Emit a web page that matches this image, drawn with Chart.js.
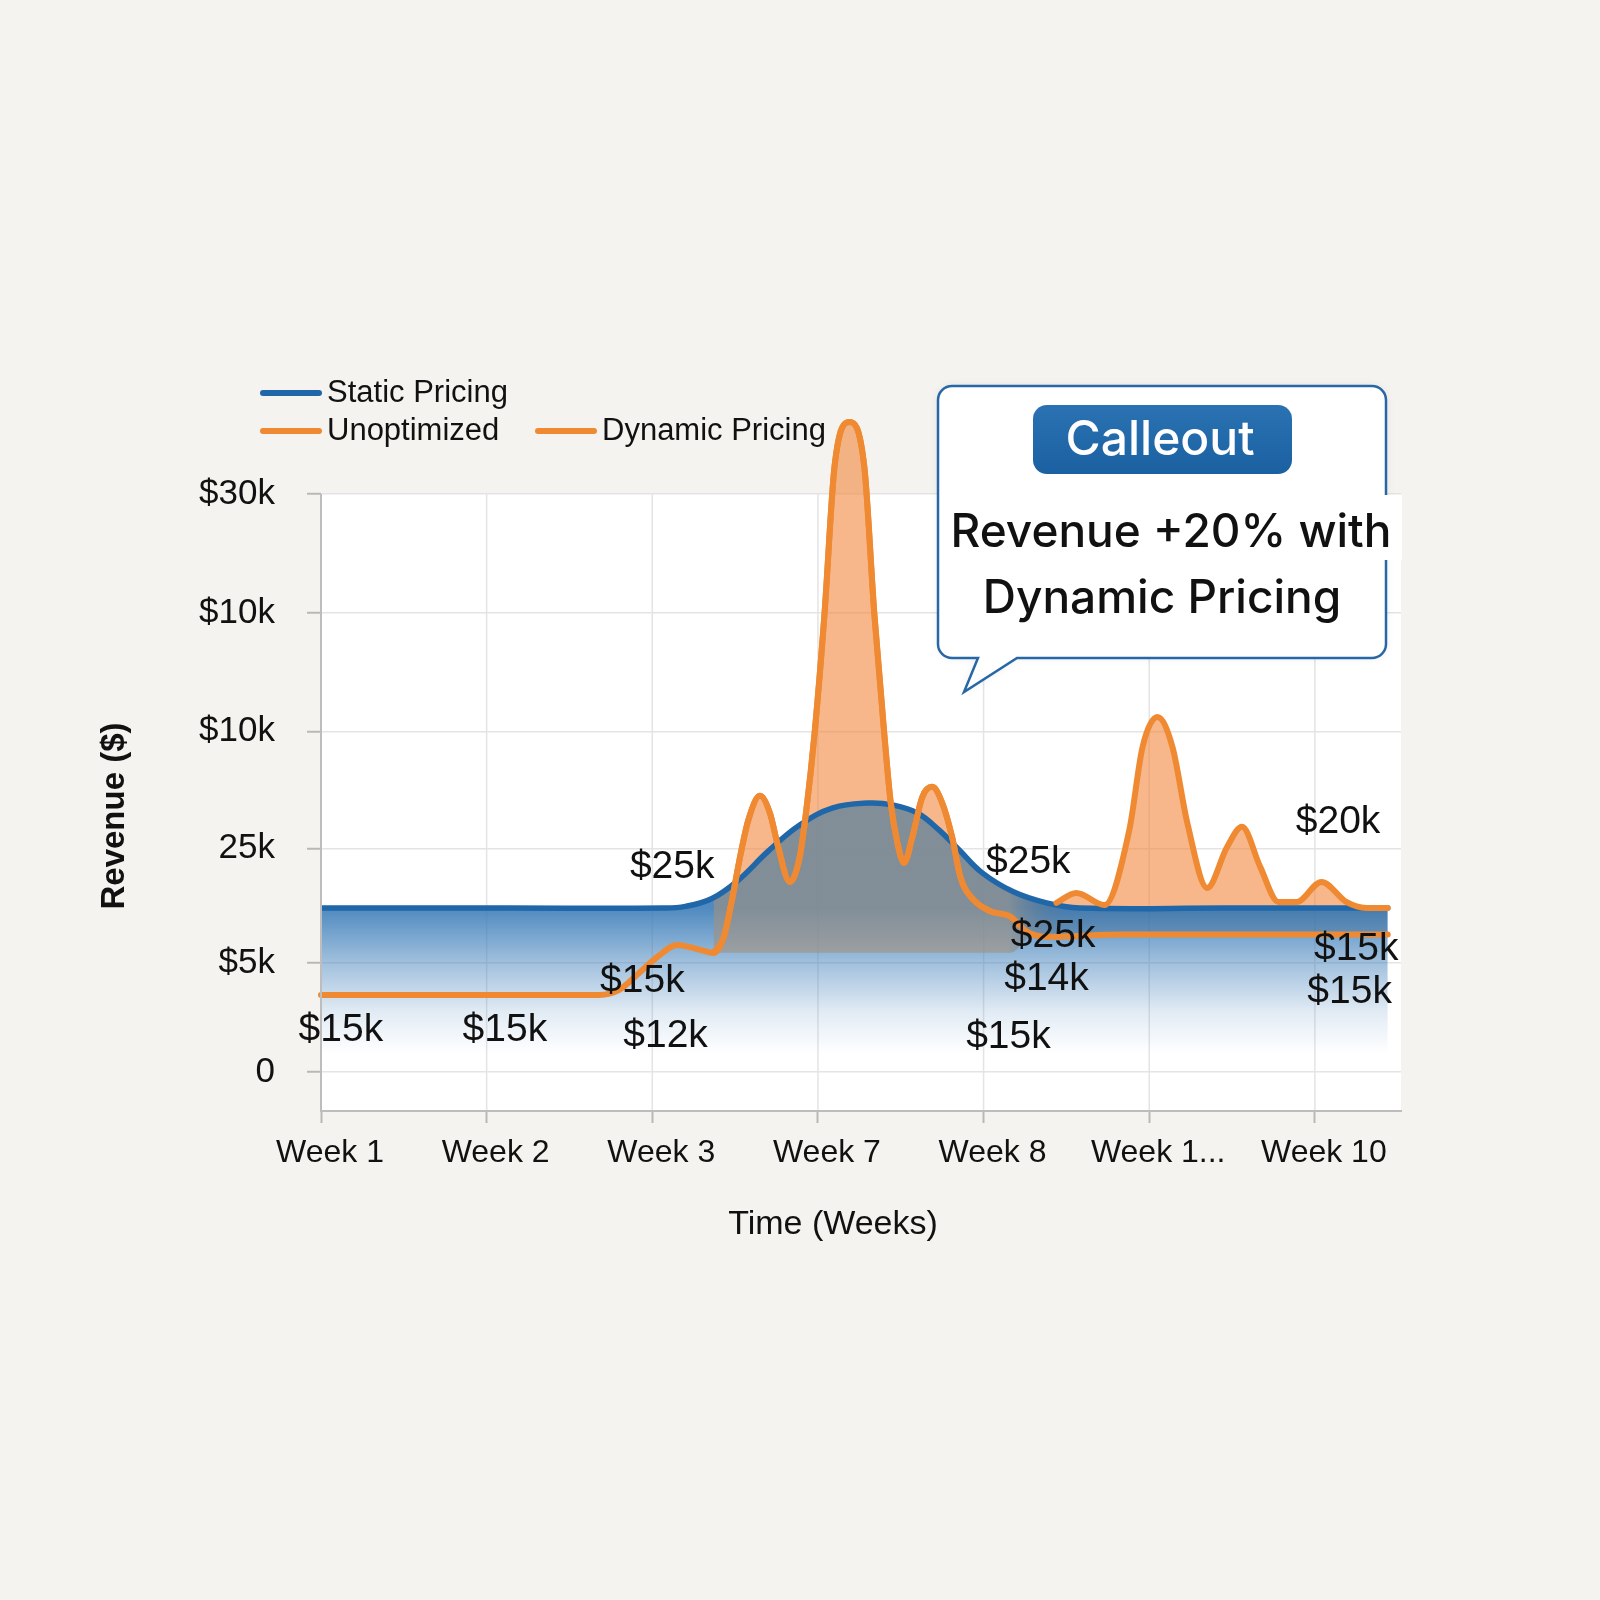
<!DOCTYPE html>
<html>
<head>
<meta charset="utf-8">
<title>Revenue: Static vs Dynamic Pricing</title>
<script src="https://cdn.jsdelivr.net/npm/chart.js@4.4.1/dist/chart.umd.min.js"></script>
<style>
  html, body { margin: 0; padding: 0; background: #f4f3ef; }
  canvas { display: block; }
</style>
</head>
<body>
<canvas id="revenueChart" width="1600" height="1600"></canvas>
<script>
"use strict";

// Axis labels (x = week slot, y = revenue in $k)
const WEEK_LABELS = ["Week 1", "Week 2", "Week 3", "Week 7", "Week 8", "Week 1...", "Week 10"];
const REVENUE_TICKS = [0, 4.71, 9.65, 14.71, 19.85, 25];
const REVENUE_TICK_LABELS = ["0", "$5k", "25k", "$10k", "$10k", "$30k"];

// Static pricing
const STATIC_X = [0, 1.14, 2.06, 2.20, 2.36, 2.52, 2.70, 2.89, 3.09, 3.30, 3.45, 3.60, 3.73, 3.85, 3.99, 4.18, 4.38, 4.58, 5.45, 6.44];
const STATIC_Y = [7.09, 7.09, 7.09, 7.16, 7.50, 8.30, 9.55, 10.68, 11.42, 11.63, 11.55, 11.20, 10.47, 9.62, 8.62, 7.79, 7.31, 7.09, 7.09, 7.09];

// Unoptimized
const UNOPT_X = [0, 1.68, 1.80, 1.92, 2.03, 2.15, 2.29, 2.37, 2.43, 2.48, 2.53, 2.58, 2.65, 2.71, 2.76, 2.83, 2.89, 2.93, 2.98, 3.04, 3.10, 3.19, 3.28, 3.34, 3.40, 3.44, 3.48, 3.52, 3.57, 3.63, 3.69, 3.75, 3.81, 3.86, 3.94, 4.04, 4.16, 4.26, 4.38, 4.84, 6.44];
const UNOPT_Y = [3.33, 3.33, 3.55, 4.28, 4.97, 5.49, 5.28, 5.15, 5.80, 7.40, 9.30, 10.90, 11.94, 11.20, 9.73, 8.22, 9.30, 11.33, 14.66, 19.85, 26.17, 28.11, 26.17, 19.85, 14.66, 11.60, 9.90, 9.04, 10.16, 11.89, 12.33, 11.64, 10.16, 8.43, 7.44, 6.95, 6.73, 6.07, 5.85, 5.94, 5.94];

// Dynamic pricing, late weeks (the mid-chart spike is shared with the orange line above)
const DYNAMIC_X = [4.44, 4.56, 4.73, 4.88, 4.96, 5.05, 5.14, 5.23, 5.35, 5.47, 5.56, 5.67, 5.78, 5.89, 6.04, 6.19, 6.31, 6.44];
const DYNAMIC_Y = [7.31, 7.74, 7.22, 10.47, 14.06, 15.35, 14.06, 10.77, 7.96, 9.73, 10.60, 8.87, 7.35, 7.35, 8.22, 7.35, 7.09, 7.09];

// Grey overlap band under the static line
const BAND_X = [2.37, 4.16, 4.30, 6.44];
const BAND_Y = [5.15, 5.15, 5.90, 5.94];

// Value labels scattered on the plot
const VALUE_LABEL_X = [0.12, 1.11, 2.08, 1.94, 2.12, 4.27, 4.42, 4.38, 4.15, 6.14, 6.25, 6.21];
const VALUE_LABEL_Y = [1.79, 1.79, 1.53, 3.91, 8.87, 9.07, 5.85, 4.0, 1.48, 10.8, 5.32, 3.43];
const VALUE_LABEL_TEXT = ["$15k", "$15k", "$12k", "$15k", "$25k", "$25k", "$25k", "$14k", "$15k", "$20k", "$15k", "$15k"];

const BLUE = "#1f67a8";
const ORANGE = "#ef8a32";
const ORANGE_FILL = "rgba(241,135,60,0.6)";

Chart.defaults.font.family = "'Liberation Sans', Arial, sans-serif";
Chart.defaults.color = "#111111";

function toPoints(xs, ys) {
    return xs.map(function(x, i) { return { x: x, y: ys[i] }; });
}

// dynamic = spike section of the orange line + gap + late weeks
let dynamicPoints = toPoints(UNOPT_X, UNOPT_Y).filter(function(p) { return p.x >= 2.37 && p.x <= 4.04; });
dynamicPoints.push({ x: 4.24, y: null });
dynamicPoints = dynamicPoints.concat(toPoints(DYNAMIC_X, DYNAMIC_Y));

function staticFill(context) {
    const chart = context.chart;
    if (!chart.chartArea) return "rgba(60,125,185,0.5)";
    const y = chart.scales.y;
    const g = chart.ctx.createLinearGradient(0, y.getPixelForValue(7.1), 0, y.getPixelForValue(0.8));
    g.addColorStop(0, "rgba(60,125,185,0.9)");
    g.addColorStop(0.37, "rgba(60,125,185,0.49)");
    g.addColorStop(0.72, "rgba(60,125,185,0.15)");
    g.addColorStop(1, "rgba(60,125,185,0)");
    return g;
}

function bandFill(context) {
    const chart = context.chart;
    if (!chart.chartArea) return "rgba(150,140,130,0.6)";
    const x = chart.scales.x;
    const x0 = x.getPixelForValue(2.3);
    const x1 = x.getPixelForValue(6.44);
    const span = x1 - x0;
    const g = chart.ctx.createLinearGradient(x0, 0, x1, 0);
    g.addColorStop(0, "rgba(160,145,128,0.62)");
    g.addColorStop((x.getPixelForValue(4.15) - x0) / span, "rgba(160,145,128,0.62)");
    g.addColorStop((x.getPixelForValue(4.5) - x0) / span, "rgba(40,80,120,0.25)");
    g.addColorStop(1, "rgba(40,80,120,0.25)");
    return g;
}

function roundedBox(ctx, l, t, r, b, rad) {
    ctx.moveTo(l + rad, t);
    ctx.lineTo(r - rad, t);
    ctx.arcTo(r, t, r, t + rad, rad);
    ctx.lineTo(r, b - rad);
    ctx.arcTo(r, b, r - rad, b, rad);
    ctx.lineTo(l + rad, b);
    ctx.arcTo(l, b, l, b - rad, rad);
    ctx.lineTo(l, t + rad);
    ctx.arcTo(l, t, l + rad, t, rad);
}

const LEGEND_SLOTS = [
    { label: "Static Pricing", x: 263, y: 393 },
    { label: "Unoptimized", x: 263, y: 431 },
    { label: "Dynamic Pricing", x: 538, y: 431 }
];

const revenueDecor = {
    id: "revenueDecor",
    beforeDraw(chart) {
        const ctx = chart.ctx;
        const area = chart.chartArea;
        const top = chart.scales.y.getPixelForValue(REVENUE_TICKS[REVENUE_TICKS.length - 1]);
        ctx.save();
        ctx.fillStyle = "#ffffff";
        ctx.fillRect(area.left, top, area.right - area.left, area.bottom - top);
        ctx.strokeStyle = "#e4e4e4";
        ctx.lineWidth = 1.5;
        WEEK_LABELS.forEach(function(_, i) {
            const px = chart.scales.x.getPixelForValue(i);
            ctx.beginPath();
            ctx.moveTo(px, top);
            ctx.lineTo(px, area.bottom);
            ctx.stroke();
        });
        ctx.restore();
    },
    afterDatasetsDraw(chart) {
        const ctx = chart.ctx;
        const area = chart.chartArea;
        const xs = chart.scales.x;
        const ys = chart.scales.y;
        const top = ys.getPixelForValue(REVENUE_TICKS[REVENUE_TICKS.length - 1]);
        ctx.save();
        // left axis line
        ctx.strokeStyle = "#bdbdbd";
        ctx.lineWidth = 2;
        ctx.beginPath();
        ctx.moveTo(area.left, top);
        ctx.lineTo(area.left, area.bottom);
        ctx.stroke();
        // value labels
        ctx.fillStyle = "#111111";
        ctx.font = "39px 'Liberation Sans', Arial, sans-serif";
        ctx.textAlign = "center";
        ctx.textBaseline = "middle";
        VALUE_LABEL_TEXT.forEach(function(t, i) {
            ctx.fillText(t, xs.getPixelForValue(VALUE_LABEL_X[i]), ys.getPixelForValue(VALUE_LABEL_Y[i]));
        });
        ctx.restore();
    },
    afterDraw(chart) {
        const ctx = chart.ctx;
        ctx.save();

        // legend
        ctx.font = "31px 'Liberation Sans', Arial, sans-serif";
        ctx.textAlign = "left";
        ctx.textBaseline = "middle";
        ctx.lineCap = "round";
        LEGEND_SLOTS.forEach(function(slot) {
            const ds = chart.data.datasets.find(function(d) { return d.label === slot.label; });
            ctx.strokeStyle = ds.borderColor;
            ctx.lineWidth = 6;
            ctx.beginPath();
            ctx.moveTo(slot.x, slot.y);
            ctx.lineTo(slot.x + 56, slot.y);
            ctx.stroke();
            ctx.fillStyle = "#111111";
            ctx.fillText(slot.label, slot.x + 64, slot.y);
        });

        // axis titles
        ctx.textAlign = "center";
        ctx.font = "34px 'Liberation Sans', Arial, sans-serif";
        ctx.fillText("Time (Weeks)", 833, 1225);
        ctx.save();
        ctx.translate(115, 816);
        ctx.rotate(-Math.PI / 2);
        ctx.font = "bold 33px 'Liberation Sans', Arial, sans-serif";
        ctx.fillText("Revenue ($)", 0, 0);
        ctx.restore();

        // callout box with tail
        ctx.beginPath();
        ctx.moveTo(952, 386);
        ctx.lineTo(1372, 386);
        ctx.arcTo(1386, 386, 1386, 400, 14);
        ctx.lineTo(1386, 644);
        ctx.arcTo(1386, 658, 1372, 658, 14);
        ctx.lineTo(1017, 658);
        ctx.lineTo(964, 692);
        ctx.lineTo(978, 658);
        ctx.lineTo(952, 658);
        ctx.arcTo(938, 658, 938, 644, 14);
        ctx.lineTo(938, 400);
        ctx.arcTo(938, 386, 952, 386, 14);
        ctx.closePath();
        ctx.shadowColor = "rgba(0,0,0,0.08)";
        ctx.shadowBlur = 10;
        ctx.fillStyle = "#ffffff";
        ctx.fill();
        ctx.shadowColor = "transparent";
        ctx.strokeStyle = "#2767a6";
        ctx.lineWidth = 2.5;
        ctx.stroke();

        // plot background overlapping the right border
        ctx.fillStyle = "#ffffff";
        ctx.fillRect(1380, 495, 22, 65);

        // title pill
        const pill = ctx.createLinearGradient(0, 405, 0, 474);
        pill.addColorStop(0, "#2a72b2");
        pill.addColorStop(1, "#1b61a1");
        ctx.beginPath();
        roundedBox(ctx, 1033, 405, 1292, 474, 14);
        ctx.closePath();
        ctx.fillStyle = pill;
        ctx.fill();
        ctx.fillStyle = "#ffffff";
        ctx.font = "500 48px Inter, 'Liberation Sans', sans-serif";
        ctx.fillText("Calleout", 1160, 441);

        ctx.fillStyle = "#111111";
        ctx.font = "500 46px Inter, 'Liberation Sans', sans-serif";
        ctx.fillText("Revenue +20% with", 1171, 533);
        ctx.fillText("Dynamic Pricing", 1162, 599);

        ctx.restore();
    }
};

const ctx_revenue = document.getElementById("revenueChart").getContext("2d");

let revenueChart = new Chart(ctx_revenue, {
    type: "line",
    data: {
        datasets: [
            {
                label: "Static Pricing",
                data: toPoints(STATIC_X, STATIC_Y),
                borderColor: BLUE,
                borderWidth: 5.5,
                backgroundColor: staticFill,
                fill: "origin",
                cubicInterpolationMode: "default",
                tension: 0.4,
                order: 4
            },
            {
                label: "",
                data: toPoints(BAND_X, BAND_Y),
                borderColor: "rgba(0,0,0,0)",
                borderWidth: 1,
                backgroundColor: bandFill,
                fill: { target: 0 },
                order: 3
            },
            {
                label: "Unoptimized",
                data: toPoints(UNOPT_X, UNOPT_Y),
                borderColor: ORANGE,
                borderWidth: 6,
                fill: false,
                order: 2,
                clip: false
            },
            {
                label: "Dynamic Pricing",
                data: dynamicPoints,
                borderColor: ORANGE,
                borderWidth: 6,
                backgroundColor: ORANGE_FILL,
                fill: { target: 0, above: ORANGE_FILL, below: "rgba(0,0,0,0)" },
                order: 1,
                clip: false
            }
        ]
    },
    options: {
        responsive: false,
        animation: false,
        devicePixelRatio: 1,
        layout: { padding: { top: 413, right: 199, bottom: 0, left: 0 } },
        elements: {
            point: { radius: 0, hoverRadius: 0 },
            line: { cubicInterpolationMode: "monotone", capBezierPoints: false, borderCapStyle: "round", borderJoinStyle: "round" }
        },
        plugins: {
            legend: { display: false },
            tooltip: { enabled: false },
            filler: { drawTime: "beforeDatasetsDraw" }
        },
        scales: {
            x: {
                type: "linear",
                min: 0,
                max: 6.52,
                afterBuildTicks: function(scale) {
                    scale.ticks = WEEK_LABELS.map(function(_, i) { return { value: i }; });
                },
                afterFit: function(scale) { scale.height = 489; },
                ticks: {
                    callback: function(value) { return WEEK_LABELS[value]; },
                    autoSkip: false,
                    maxRotation: 0,
                    padding: 11,
                    labelOffset: 9,
                    color: "#111111",
                    font: { size: 32 }
                },
                grid: { drawOnChartArea: false, tickLength: 12, tickColor: "#b8b8b8", tickWidth: 2 },
                border: { color: "#bdbdbd", width: 2 }
            },
            y: {
                type: "linear",
                min: -1.69,
                max: 28.5,
                afterBuildTicks: function(scale) {
                    scale.ticks = REVENUE_TICKS.map(function(v) { return { value: v }; });
                },
                afterFit: function(scale) { scale.width = 321; },
                ticks: {
                    callback: function(value, index) { return REVENUE_TICK_LABELS[index]; },
                    padding: 32,
                    color: "#111111",
                    font: { size: 35 }
                },
                grid: { color: "#e4e4e4", lineWidth: 1.5, tickLength: 14, tickColor: "#b8b8b8", tickWidth: 2 },
                border: { display: false }
            }
        }
    },
    plugins: [revenueDecor]
});
</script>
</body>
</html>
